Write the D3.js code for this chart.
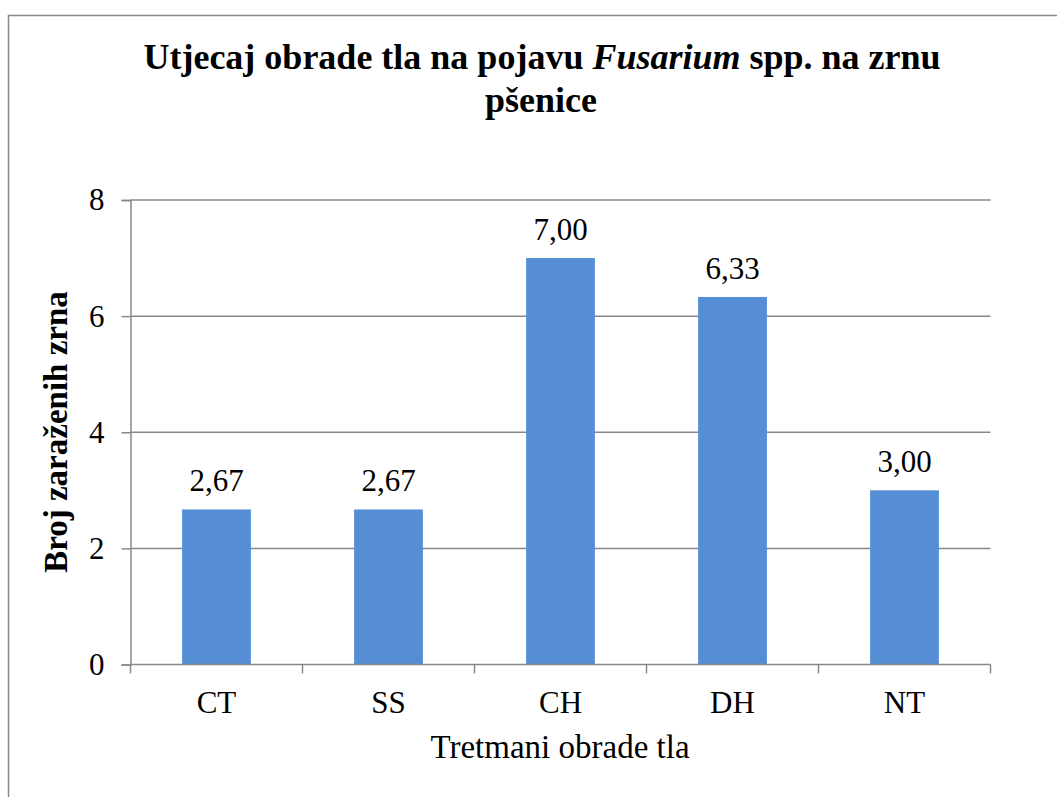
<!DOCTYPE html>
<html>
<head>
<meta charset="utf-8">
<script src="https://cdn.jsdelivr.net/npm/d3@7"></script>
<style>
  body { margin: 0; background: #fff; }
  svg { display: block; }
</style>
</head>
<body>
<svg id="chart" width="1057" height="797"></svg>
<script>
const categories = ['CT', 'SS', 'CH', 'DH', 'NT'];
const values = [2.67, 2.67, 7.00, 6.33, 3.00];
const yTicks = [0, 2, 4, 6, 8];

const width = 1057, height = 797;
const plot = {left: 130.5, right: 990.5, top: 200, bottom: 664.5};
const gridColor = '#888888';
const barColor = '#558ed5';
const serif = "'Liberation Serif', 'Times New Roman', Times, serif";

const svg = d3.select('#chart').style('font-family', serif);

// outer chart border (runs off the right and bottom edge)
svg.append('rect')
    .attr('x', 8.5).attr('y', 15.5)
    .attr('width', width + 10).attr('height', height + 10)
    .attr('fill', 'none')
    .attr('stroke', gridColor)
    .attr('stroke-width', 1.5);

const x = d3.scaleBand()
    .domain(categories)
    .range([plot.left, plot.right])
    .paddingInner(0.6)
    .paddingOuter(0.3);

const y = d3.scaleLinear()
    .domain([0, 8])
    .range([plot.bottom, plot.top]);

// horizontal gridlines
svg.append('g')
    .selectAll('line')
    .data(yTicks.filter(d => d > 0))
    .enter()
    .append('line')
    .attr('x1', plot.left).attr('x2', plot.right)
    .attr('y1', d => y(d)).attr('y2', d => y(d))
    .attr('stroke', gridColor)
    .attr('stroke-width', 1.5);

// bars
svg.append('g')
    .selectAll('rect')
    .data(values)
    .enter()
    .append('rect')
    .attr('x', (d, i) => x(categories[i]))
    .attr('y', d => y(d))
    .attr('width', x.bandwidth())
    .attr('height', d => y(0) - y(d))
    .attr('fill', barColor);

// value labels
svg.append('g')
    .selectAll('text')
    .data(values)
    .enter()
    .append('text')
    .attr('x', (d, i) => x(categories[i]) + x.bandwidth() / 2)
    .attr('y', d => y(d) - 18)
    .attr('text-anchor', 'middle')
    .style('font-family', serif)
    .style('font-size', '31px')
    .text(d => d.toFixed(2).replace('.', ','));

// y axis
const yAxis = svg.append('g')
    .attr('transform', `translate(${plot.left},0)`)
    .call(d3.axisLeft(y).tickValues(yTicks).tickSize(9).tickPadding(17).tickFormat(d3.format('d')));
yAxis.attr('font-family', null).attr('font-size', null);
yAxis.select('.domain').attr('stroke', gridColor).attr('stroke-width', 1.5);
yAxis.selectAll('.tick line').attr('stroke', gridColor).attr('stroke-width', 1.5);
yAxis.selectAll('.tick text')
    .style('font-family', serif)
    .style('font-size', '31px')
    .attr('fill', '#000');

// x axis: ticks sit between categories
const bounds = d3.range(categories.length + 1).map(i => plot.left + i * x.step());
const xg = svg.append('g');
xg.append('line')
    .attr('x1', plot.left).attr('x2', plot.right)
    .attr('y1', plot.bottom).attr('y2', plot.bottom)
    .attr('stroke', gridColor).attr('stroke-width', 1.5);
xg.selectAll('.xtick')
    .data(bounds)
    .enter()
    .append('line')
    .attr('x1', d => d).attr('x2', d => d)
    .attr('y1', plot.bottom).attr('y2', plot.bottom + 9)
    .attr('stroke', gridColor).attr('stroke-width', 1.5);
xg.selectAll('text')
    .data(categories)
    .enter()
    .append('text')
    .attr('x', d => x(d) + x.bandwidth() / 2)
    .attr('y', 713)
    .attr('text-anchor', 'middle')
    .style('font-family', serif)
    .style('font-size', '31px')
    .text(d => d);

// axis titles
svg.append('text')
    .attr('x', 560).attr('y', 758)
    .attr('text-anchor', 'middle')
    .style('font-family', serif)
    .style('font-size', '33px')
    .text('Tretmani obrade tla');

svg.append('text')
    .attr('transform', 'translate(67,432) rotate(-90)')
    .attr('text-anchor', 'middle')
    .style('font-family', serif)
    .style('font-size', '33px')
    .style('font-weight', 'bold')
    .text('Broj zaraženih zrna');

// title
const title = svg.append('text')
    .attr('x', 542).attr('y', 69)
    .attr('text-anchor', 'middle')
    .style('font-family', serif)
    .style('font-size', '36px')
    .style('font-weight', 'bold');
title.append('tspan').text('Utjecaj obrade tla na pojavu ');
title.append('tspan').style('font-style', 'italic').text('Fusarium');
title.append('tspan').text(' spp. na zrnu');

svg.append('text')
    .attr('x', 541).attr('y', 112)
    .attr('text-anchor', 'middle')
    .style('font-family', serif)
    .style('font-size', '36px')
    .style('font-weight', 'bold')
    .text('pšenice');
</script>
</body>
</html>
